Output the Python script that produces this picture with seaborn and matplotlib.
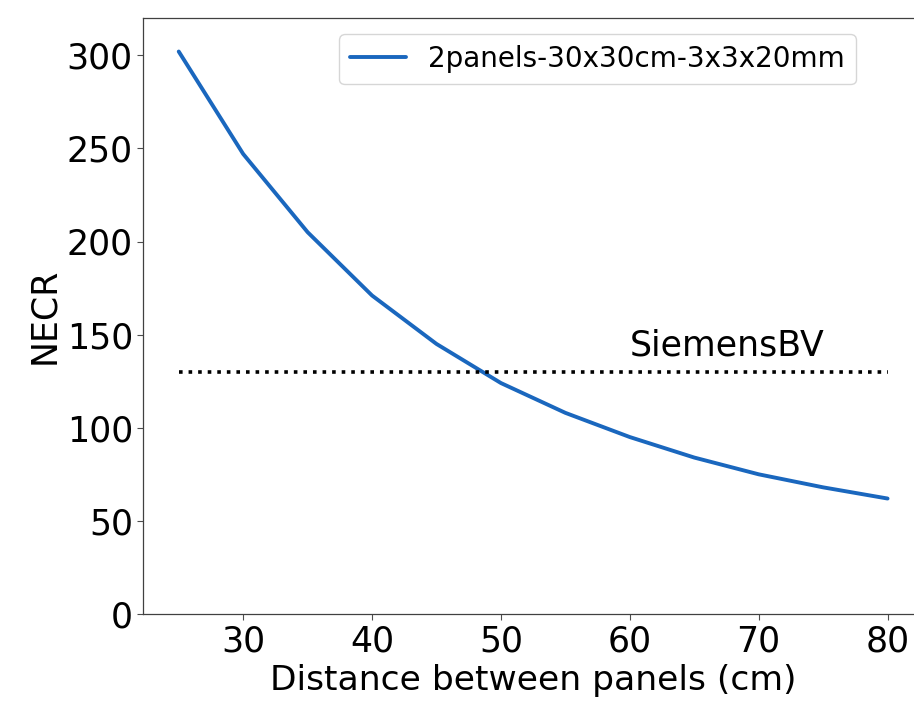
import matplotlib
matplotlib.use("Agg")
import matplotlib.pyplot as plt
import seaborn as sns
import pandas as pd

distance = [25, 30, 35, 40, 45, 50, 55, 60, 65, 70, 75, 80]
necr = [302, 247, 205, 171, 145, 124, 108, 95, 84, 75, 68, 62]
series_label = "2panels-30x30cm-3x3x20mm"
siemens_value = 130
siemens_label = "SiemensBV"

sns.set_style("ticks")
plt.rcParams["font.family"] = ["DejaVu Sans"]
plt.rcParams["text.color"] = "black"
plt.rcParams["axes.labelcolor"] = "black"

df = pd.DataFrame({"distance": distance, "necr": necr})

fig = plt.figure(figsize=(9.14, 7.01), dpi=100)
W, H = 914, 701
left, right, top, bottom = 143.3, 923.0, 18.0, 614.0
ax = fig.add_axes([left / W, 1 - bottom / H, (right - left) / W, (bottom - top) / H])

sns.lineplot(data=df, x="distance", y="necr", ax=ax, color="#1a67be",
             linewidth=2.8, label=series_label)
ax.plot([distance[0], distance[-1]], [siemens_value, siemens_value],
        color="black", linestyle=":", linewidth=2.6)
ax.text(60, 139, siemens_label, fontsize=25, color="black")

ax.set_xlim(22.25, 82.75)
ax.set_ylim(0, 320)
ax.set_xticks([30, 40, 50, 60, 70, 80])
ax.set_yticks([0, 50, 100, 150, 200, 250, 300])
ax.tick_params(labelsize=25, length=4, width=0.8, colors="0.3", labelcolor="black")
ax.set_xlabel("Distance between panels (cm)", fontsize=24.8, color="black")
ax.set_ylabel("NECR", fontsize=25, color="black")
for s in ax.spines.values():
    s.set_color("0.25")
    s.set_linewidth(0.9)

leg = ax.legend(loc="upper right", bbox_to_anchor=(856 / W, 1 - 34 / H),
                bbox_transform=fig.transFigure, borderaxespad=0, fontsize=20,
                frameon=True)
for t in leg.get_texts():
    t.set_color("black")

fig.savefig("out.png", dpi=100)
